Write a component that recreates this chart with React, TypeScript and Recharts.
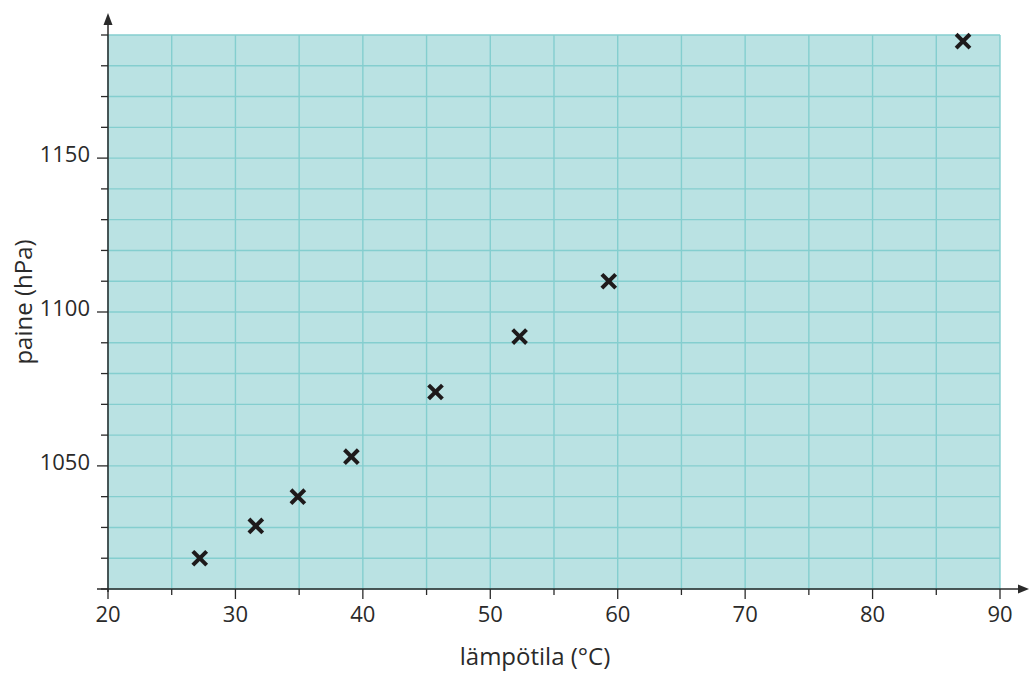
import React from 'react';
import { ScatterChart, Scatter, XAxis, YAxis, CartesianGrid } from 'recharts';

// measurements: temperature (°C) vs pressure (hPa)
const temperatures = [27.2, 31.6, 34.9, 39.1, 45.7, 52.3, 59.3, 87.1];
const pressures = [1020, 1030.5, 1040, 1053, 1074, 1092, 1110, 1188];

const xTicks = [20, 25, 30, 35, 40, 45, 50, 55, 60, 65, 70, 75, 80, 85, 90];
const xLabelled = [20, 30, 40, 50, 60, 70, 80, 90];
const yTicks = [
  1010, 1020, 1030, 1040, 1050, 1060, 1070, 1080, 1090, 1100, 1110, 1120, 1130, 1140, 1150, 1160,
  1170, 1180, 1190,
];
const yLabelled = [1050, 1100, 1150];

const xTitle = 'lämpötila (°C)';
const yTitle = 'paine (hPa)';

const data = temperatures.map((t, i) => ({ t, p: pressures[i] }));

const W = 1030;
const H = 675;
const LEFT = 108;
const RIGHT = 30;
const TOP = 35;
const BOTTOM = 86;
const AXIS_Y = H - BOTTOM;

const FONT = '"Open Sans", "Noto Sans", sans-serif';
const INK = '#2a2a2a';

const XTick = (props: any) => {
  const { x, y, payload } = props;
  const major = xLabelled.includes(payload.value);
  return (
    <g>
      <line x1={x} x2={x} y1={y} y2={y + (major ? 10 : 6)} stroke={INK} strokeWidth={1.3} />
      {major && (
        <text x={x} y={y + 33} textAnchor="middle" fontSize={22} fill={INK} fontFamily={FONT}>
          {payload.value}
        </text>
      )}
    </g>
  );
};

const YTick = (props: any) => {
  const { x, y, payload } = props;
  const major = yLabelled.includes(payload.value);
  return (
    <g>
      <line x1={x - (major ? 11 : 7)} x2={x} y1={y} y2={y} stroke={INK} strokeWidth={1.3} />
      {major && (
        <text x={x - 18} y={y + 4} textAnchor="end" fontSize={22} fill={INK} fontFamily={FONT}>
          {payload.value}
        </text>
      )}
    </g>
  );
};

// bold "x" marker
const Cross = (props: any) => {
  const { cx, cy } = props;
  const r = 5.5;
  return (
    <g stroke="#1e1a1b" strokeWidth={4} strokeLinecap="square">
      <line x1={cx - r} y1={cy - r} x2={cx + r} y2={cy + r} />
      <line x1={cx - r} y1={cy + r} x2={cx + r} y2={cy - r} />
    </g>
  );
};

export default function App() {
  return (
    <div style={{ position: 'absolute', left: 0, top: 0, width: W, height: H, background: '#fff' }}>
      <ScatterChart width={W} height={H} margin={{ top: TOP, right: RIGHT, left: 0, bottom: 0 }}>
        <CartesianGrid stroke="#84cecf" strokeWidth={1.4} fill="#bae2e3" fillOpacity={1} />
        <XAxis
          type="number"
          dataKey="t"
          domain={[20, 90]}
          ticks={xTicks}
          interval={0}
          height={BOTTOM}
          axisLine={false}
          tickLine={false}
          tickSize={0}
          tickMargin={0}
          tick={<XTick />}
        />
        <YAxis
          type="number"
          dataKey="p"
          domain={[1010, 1190]}
          ticks={yTicks}
          interval={0}
          width={LEFT}
          axisLine={false}
          tickLine={false}
          tickSize={0}
          tickMargin={0}
          tick={<YTick />}
        />
        <Scatter data={data} shape={<Cross />} isAnimationActive={false} />
      </ScatterChart>
      <svg
        width={W}
        height={H}
        style={{ position: 'absolute', left: 0, top: 0, pointerEvents: 'none' }}
      >
        {/* axes with arrow heads */}
        <line x1={LEFT - 11} x2={W - 10} y1={AXIS_Y} y2={AXIS_Y} stroke={INK} strokeWidth={1.5} />
        <polygon points={`${W - 1},${AXIS_Y} ${W - 12},${AXIS_Y - 4.5} ${W - 12},${AXIS_Y + 4.5}`} fill={INK} />
        <line x1={LEFT} x2={LEFT} y1={AXIS_Y + 3} y2={22} stroke={INK} strokeWidth={1.5} />
        <polygon points={`${LEFT},13 ${LEFT - 4.5},25 ${LEFT + 4.5},25`} fill={INK} />
        <text x={535} y={665} textAnchor="middle" fontSize={24} fill={INK} fontFamily={FONT}>
          {xTitle}
        </text>
        <text
          x={32}
          y={302}
          textAnchor="middle"
          fontSize={24}
          fill={INK}
          fontFamily={FONT}
          transform="rotate(-90 32 302)"
        >
          {yTitle}
        </text>
      </svg>
    </div>
  );
}
